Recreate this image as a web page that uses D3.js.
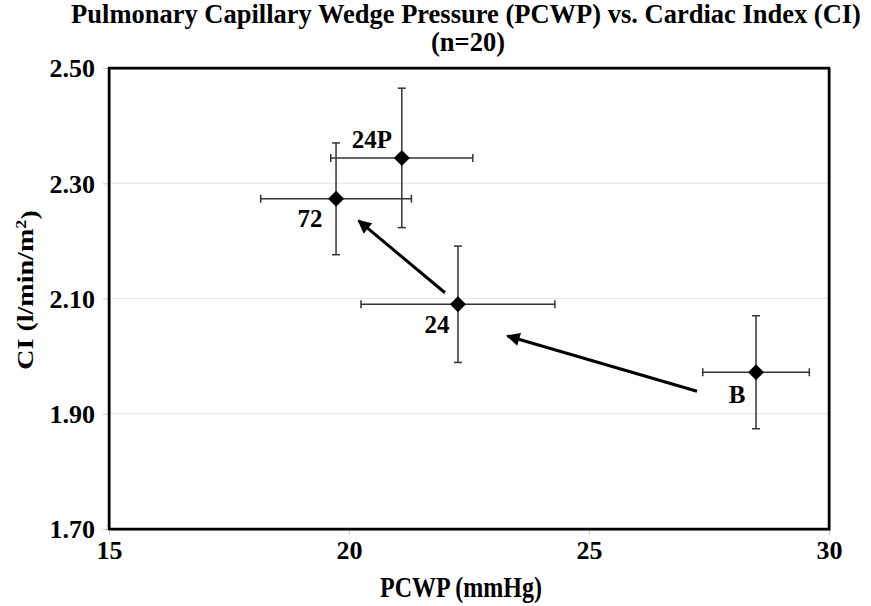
<!DOCTYPE html>
<html>
<head>
<meta charset="utf-8">
<script src="https://cdn.jsdelivr.net/npm/d3@7"></script>
<style>
  body { margin: 0; background: #fff; }
  text { font-family: "Liberation Serif", "Times New Roman", serif; font-weight: bold; fill: #000; }
</style>
</head>
<body>
<div id="chart"></div>
<script>
// data
var labels = ["B", "24", "24P", "72"]
var pcwp = [28.48, 22.27, 21.10, 19.73]
var pcwpErr = [1.11, 2.02, 1.48, 1.57]
var ci = [1.972, 2.090, 2.344, 2.273]
var ciErr = [0.098, 0.101, 0.121, 0.097]
var xTicks = [15, 20, 25, 30]
var yTicks = [1.70, 1.90, 2.10, 2.30, 2.50]
// arrows: from -> to, in data units
var arrows = [
  {x1: 27.25, y1: 1.939, x2: 23.3, y2: 2.035},
  {x1: 22.0, y1: 2.11, x2: 20.2, y2: 2.235}
]
// label offsets in pixels relative to point
var labelDx = [-19, -21, -30, -26]
var labelDy = [31, 29, -10, 28]

var W = 871, H = 606
var margin = {top: 68, right: 42, bottom: 77, left: 109},
    width = W - margin.left - margin.right,
    height = H - margin.top - margin.bottom;

var svg = d3.select("#chart")
    .append("svg")
    .attr("width", W)
    .attr("height", H)

var g = svg.append("g")
    .attr("transform", "translate(" + margin.left + "," + margin.top + ")");

var x = d3.scaleLinear().domain([15, 30]).range([0, width])
var y = d3.scaleLinear().domain([1.70, 2.50]).range([height, 0])

// gridlines
g.selectAll(".grid")
    .data(yTicks.filter(function(d) { return d > 1.71 && d < 2.49 }))
    .enter().append("line")
    .attr("x1", 0).attr("x2", width)
    .attr("y1", function(d) { return y(d) }).attr("y2", function(d) { return y(d) })
    .attr("stroke", "#e4e4e4")
    .attr("stroke-width", 1)

// y axis
var yAxis = g.append("g")
    .call(d3.axisLeft(y).tickValues(yTicks).tickFormat(d3.format(".2f")).tickSize(6).tickPadding(8))
yAxis.select(".domain").remove()
yAxis.selectAll("line").attr("stroke", "#ccc")
yAxis.selectAll("text").style("font-size", "26px").attr("dy", "0.34em")

// x axis
var xAxis = g.append("g")
    .attr("transform", "translate(0," + height + ")")
    .call(d3.axisBottom(x).tickValues(xTicks).tickSize(6).tickPadding(6))
xAxis.select(".domain").remove()
xAxis.selectAll("line").attr("stroke", "#ccc")
xAxis.selectAll("text").style("font-size", "26px")

// frame
g.append("rect")
    .attr("x", 1).attr("y", 1)
    .attr("width", width).attr("height", height)
    .attr("fill", "none").attr("stroke", "#999").attr("stroke-width", 2)
g.append("rect")
    .attr("width", width).attr("height", height)
    .attr("fill", "none").attr("stroke", "#000").attr("stroke-width", 2.5)

// arrow marker
svg.append("defs").append("marker")
    .attr("id", "arrowhead")
    .attr("viewBox", "0 0 10 10")
    .attr("refX", 9).attr("refY", 5)
    .attr("markerWidth", 5).attr("markerHeight", 4.5)
    .attr("markerUnits", "strokeWidth")
    .attr("orient", "auto")
    .append("path")
    .attr("d", "M0,0 L10,5 L0,10 Z")
    .attr("fill", "#000")

g.selectAll(".arrow")
    .data(arrows)
    .enter().append("line")
    .attr("x1", function(d) { return x(d.x1) })
    .attr("y1", function(d) { return y(d.y1) })
    .attr("x2", function(d) { return x(d.x2) })
    .attr("y2", function(d) { return y(d.y2) })
    .attr("stroke", "#000")
    .attr("stroke-width", 3)
    .attr("marker-end", "url(#arrowhead)")

var pts = labels.map(function(l, i) {
    return {label: l, x: pcwp[i], xe: pcwpErr[i], y: ci[i], ye: ciErr[i], dx: labelDx[i], dy: labelDy[i]}
})

var cap = 4
var errColor = "#333"
var pg = g.selectAll(".pt").data(pts).enter().append("g")

// horizontal error bars
pg.append("line")
    .attr("x1", function(d) { return x(d.x - d.xe) })
    .attr("x2", function(d) { return x(d.x + d.xe) })
    .attr("y1", function(d) { return y(d.y) })
    .attr("y2", function(d) { return y(d.y) })
    .attr("stroke", errColor).attr("stroke-width", 1.5)
pg.append("line")
    .attr("x1", function(d) { return x(d.x - d.xe) })
    .attr("x2", function(d) { return x(d.x - d.xe) })
    .attr("y1", function(d) { return y(d.y) - cap })
    .attr("y2", function(d) { return y(d.y) + cap })
    .attr("stroke", errColor).attr("stroke-width", 1.5)
pg.append("line")
    .attr("x1", function(d) { return x(d.x + d.xe) })
    .attr("x2", function(d) { return x(d.x + d.xe) })
    .attr("y1", function(d) { return y(d.y) - cap })
    .attr("y2", function(d) { return y(d.y) + cap })
    .attr("stroke", errColor).attr("stroke-width", 1.5)

// vertical error bars
pg.append("line")
    .attr("x1", function(d) { return x(d.x) })
    .attr("x2", function(d) { return x(d.x) })
    .attr("y1", function(d) { return y(d.y - d.ye) })
    .attr("y2", function(d) { return y(d.y + d.ye) })
    .attr("stroke", errColor).attr("stroke-width", 1.5)
pg.append("line")
    .attr("x1", function(d) { return x(d.x) - cap })
    .attr("x2", function(d) { return x(d.x) + cap })
    .attr("y1", function(d) { return y(d.y - d.ye) })
    .attr("y2", function(d) { return y(d.y - d.ye) })
    .attr("stroke", errColor).attr("stroke-width", 1.5)
pg.append("line")
    .attr("x1", function(d) { return x(d.x) - cap })
    .attr("x2", function(d) { return x(d.x) + cap })
    .attr("y1", function(d) { return y(d.y + d.ye) })
    .attr("y2", function(d) { return y(d.y + d.ye) })
    .attr("stroke", errColor).attr("stroke-width", 1.5)

// diamonds
pg.append("path")
    .attr("transform", function(d) { return "translate(" + x(d.x) + "," + y(d.y) + ")" })
    .attr("d", "M0,-8 L8,0 L0,8 L-8,0 Z")
    .attr("fill", "#000")

// point labels
pg.append("text")
    .attr("x", function(d) { return x(d.x) + d.dx })
    .attr("y", function(d) { return y(d.y) + d.dy })
    .attr("text-anchor", "middle")
    .style("font-size", "25px")
    .text(function(d) { return d.label })

// titles
svg.append("text")
    .attr("x", 466).attr("y", 23)
    .attr("text-anchor", "middle")
    .style("font-size", "26.5px")
    .text("Pulmonary Capillary Wedge Pressure (PCWP) vs. Cardiac Index (CI)")
svg.append("text")
    .attr("x", 468).attr("y", 51)
    .attr("text-anchor", "middle")
    .style("font-size", "26.5px")
    .text("(n=20)")

svg.append("text")
    .attr("transform", "translate(461,597) scale(1,1.25)")
    .attr("text-anchor", "middle")
    .style("font-size", "24px")
    .text("PCWP (mmHg)")

var yt = svg.append("text")
    .attr("transform", "translate(33,290) rotate(-90) scale(1.22,1)")
    .attr("text-anchor", "middle")
    .style("font-size", "23px")
yt.append("tspan").text("CI (l/min/m")
yt.append("tspan").attr("dy", "-0.45em").style("font-size", "15px").text("2")
yt.append("tspan").attr("dy", "0.45em").text(")")
</script>
</body>
</html>
